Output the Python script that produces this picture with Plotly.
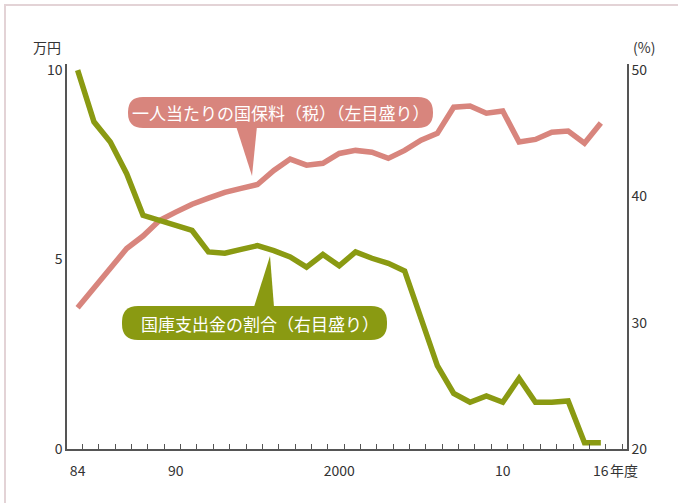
import plotly.graph_objects as go

# ---- data ----
years = list(range(1984, 2017))
premium_per_person = [3.73, 4.25, 4.77, 5.29, 5.62, 6.03, 6.25, 6.46, 6.62, 6.77, 6.88, 6.98,
                      7.35, 7.65, 7.49, 7.54, 7.80, 7.88, 7.83, 7.67, 7.88, 8.15, 8.33,
                      9.02, 9.05, 8.86, 8.92, 8.10, 8.17, 8.36, 8.39, 8.07, 8.60]
subsidy_share = [50.0, 45.9, 44.3, 41.8, 38.5, 38.1, 37.7, 37.3, 35.6, 35.5, 35.8, 36.1,
                 35.7, 35.2, 34.4, 35.4, 34.5, 35.6, 35.1, 34.7, 34.1, 30.2, 26.6,
                 24.4, 23.7, 24.2, 23.7, 25.6, 23.7, 23.7, 23.8, 20.5, 20.5]
x_tickvals = [1984, 1990, 2000, 2010, 2016]
x_ticktext = ["84", "90", "2000", "10", "16"]
left_ticks = [0, 5, 10]
right_ticks = [20, 30, 40, 50]
pink_label = "一人当たりの国保料（税）（左目盛り）"
green_label = "国庫支出金の割合（右目盛り）"

PINK = "#d8857d"
GREEN = "#8a9a12"
AXIS = "#555555"
TXT = "#333333"
FONT = "Noto Sans CJK JP"

W, H = 678, 503
L, R, T, B = 67, 627, 64, 449


def px(x):
    return (x - L) / (R - L)


def py(y):
    return (B - y) / (B - T)


def pill(x0, y0, x1, y1, r):
    pts = [
        ("M", [(x0 + r, y0)]),
        ("L", [(x1 - r, y0)]),
        ("Q", [(x1, y0), (x1, y0 + r)]),
        ("L", [(x1, y1 - r)]),
        ("Q", [(x1, y1), (x1 - r, y1)]),
        ("L", [(x0 + r, y1)]),
        ("Q", [(x0, y1), (x0, y1 - r)]),
        ("L", [(x0, y0 + r)]),
        ("Q", [(x0, y0), (x0 + r, y0)]),
    ]
    s = ""
    for cmd, ps in pts:
        s += cmd + " " + " ".join(f"{px(a):.5f},{py(b):.5f}" for a, b in ps) + " "
    return s + "Z"


def tri(p1, p2, p3):
    return "M " + " L ".join(f"{px(a):.5f},{py(b):.5f}" for a, b in (p1, p2, p3)) + " Z"


fig = go.Figure()
fig.add_trace(go.Scatter(x=years, y=premium_per_person, mode="lines",
                         line=dict(color=PINK, width=5.5), yaxis="y", hoverinfo="skip"))
fig.add_trace(go.Scatter(x=years, y=subsidy_share, mode="lines",
                         line=dict(color=GREEN, width=5.5), yaxis="y2", hoverinfo="skip"))

shapes = [
    dict(type="rect", xref="paper", yref="paper", x0=px(5), y0=py(5), x1=px(720), y1=py(540),
         line=dict(color="#e3d3d6", width=2), fillcolor="rgba(0,0,0,0)", layer="below"),
    dict(type="path", xref="paper", yref="paper", path=pill(128, 97, 433, 128, 15),
         fillcolor=PINK, line=dict(width=0)),
    dict(type="path", xref="paper", yref="paper", path=tri((236, 126), (257, 126), (252, 176)),
         fillcolor=PINK, line=dict(width=0)),
    dict(type="path", xref="paper", yref="paper", path=pill(122, 306, 387, 340, 16),
         fillcolor=GREEN, line=dict(width=0)),
    dict(type="path", xref="paper", yref="paper", path=tri((254, 307), (274, 307), (270, 256)),
         fillcolor=GREEN, line=dict(width=0)),
]

annotations = [
    dict(xref="paper", yref="paper", x=px(281), y=py(112.5), text=pink_label, showarrow=False,
         font=dict(family=FONT, size=17, color="white"), xanchor="center", yanchor="middle"),
    dict(xref="paper", yref="paper", x=px(260), y=py(323), text=green_label, showarrow=False,
         font=dict(family=FONT, size=17, color="white"), xanchor="center", yanchor="middle"),
    dict(xref="paper", yref="paper", x=px(47), y=py(47), text="万円", showarrow=False,
         font=dict(family=FONT, size=14, color=TXT), xanchor="center", yanchor="middle"),
    dict(xref="paper", yref="paper", x=px(644), y=py(47), text="(%)", showarrow=False,
         font=dict(family=FONT, size=14, color=TXT), xanchor="center", yanchor="middle"),
    dict(xref="paper", yref="paper", x=px(608), y=py(470), text="年度", showarrow=False,
         font=dict(family=FONT, size=14, color=TXT), xanchor="left", yanchor="middle"),
]

fig.update_layout(
    width=W, height=H,
    margin=dict(l=L, r=W - R, t=T, b=H - B, pad=0),
    paper_bgcolor="white", plot_bgcolor="white",
    showlegend=False,
    font=dict(family=FONT, size=14, color=TXT),
    shapes=shapes, annotations=annotations,
    xaxis=dict(range=[1983.35, 2017.6], showgrid=False, zeroline=False,
               showline=True, linecolor=AXIS, linewidth=1.5,
               tickmode="array", tickvals=x_tickvals, ticktext=x_ticktext,
               ticks="", ticklabelstandoff=8, tickfont=dict(family=FONT, size=14, color=TXT),
               minor=dict(tickmode="array", tickvals=[y + 0.3 for y in years + [2017]],
                          ticks="inside", ticklen=5, tickwidth=1, tickcolor=AXIS,
                          showgrid=False)),
    yaxis=dict(range=[0, 10.16], showgrid=False, zeroline=False,
               showline=True, linecolor=AXIS, linewidth=1.5,
               tickmode="array", tickvals=left_ticks, ticks="",
               tickfont=dict(family=FONT, size=14, color=TXT)),
    yaxis2=dict(range=[20, 50.48], overlaying="y", side="right", showgrid=False, zeroline=False,
                showline=True, linecolor=AXIS, linewidth=1.5,
                tickmode="array", tickvals=right_ticks, ticks="",
                tickfont=dict(family=FONT, size=14, color=TXT)),
)

fig.write_html("out.html", config={"displayModeBar": False},
               post_script="document.body.style.margin='0';document.body.style.padding='0';")
